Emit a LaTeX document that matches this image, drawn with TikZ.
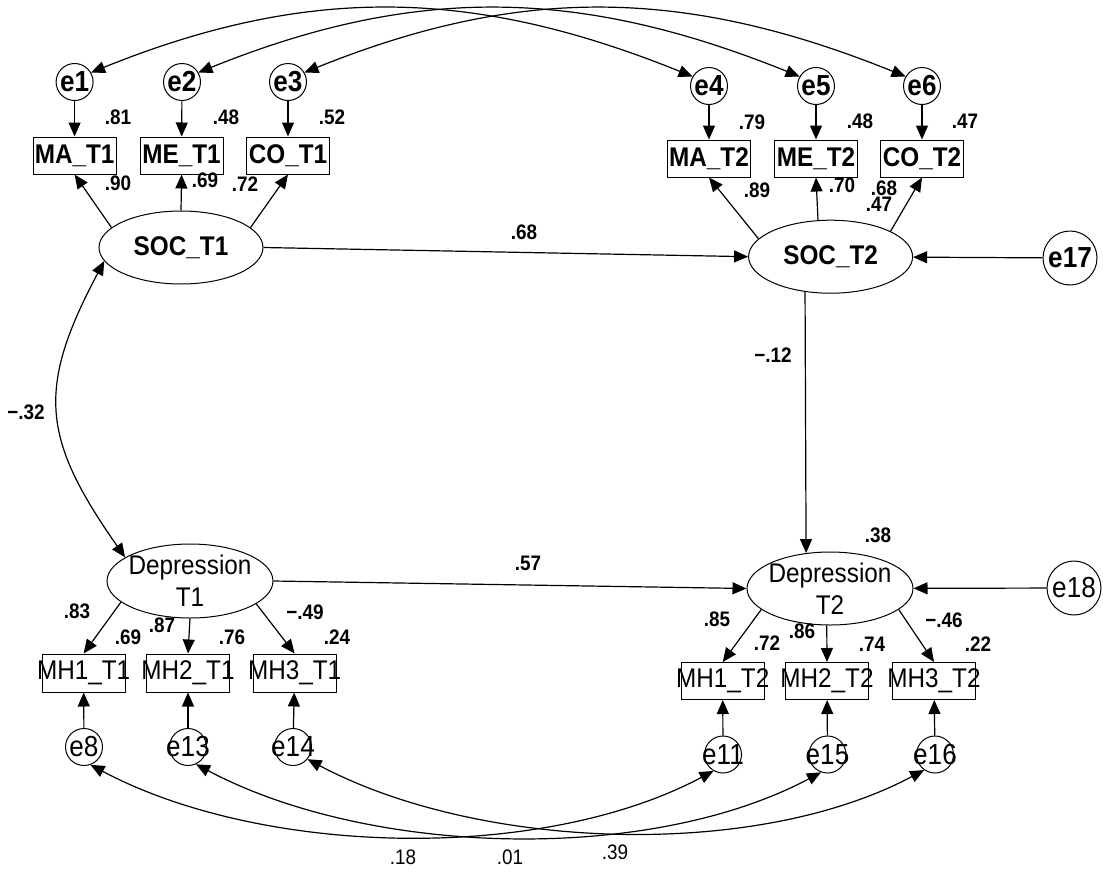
\documentclass[tikz,border=0pt]{standalone}
\usepackage{fontspec}
\newfontfamily\dfont[FakeStretch=0.9]{Liberation Sans}
\usetikzlibrary{arrows.meta,shapes.geometric}
\begin{document}
\begin{tikzpicture}[x=1pt,y=1pt]
\tikzset{
 ln/.style={line width=1.2pt},
 arr/.style={ln,-{Triangle[length=14pt,width=12pt]}},
 darr/.style={ln,{Triangle[length=14pt,width=12pt]}-{Triangle[length=14pt,width=12pt]}},
 err/.style={draw,line width=1pt,circle,minimum size=37pt,inner sep=0pt},
 errbig/.style={err,minimum size=54pt},
 obs/.style={draw,line width=1pt,rectangle,minimum width=83pt,minimum height=37pt,inner sep=0pt},
 lat/.style={draw,line width=1pt,ellipse,minimum width=164pt,minimum height=73pt,inner sep=0pt},
 bt/.style={font=\dfont\bfseries\fontsize{27}{32}\selectfont,inner sep=0pt},
 et/.style={font=\dfont\bfseries\fontsize{29}{32}\selectfont,inner sep=0pt},
 rt/.style={font=\dfont\fontsize{27}{32}\selectfont,inner sep=0pt,align=center},
 ert/.style={font=\dfont\fontsize{29}{32}\selectfont,inner sep=0pt},
 nb/.style={font=\dfont\bfseries\fontsize{21}{24}\selectfont,inner sep=0pt},
 nr/.style={font=\dfont\fontsize{21}{24}\selectfont,inner sep=0pt},
}
\fill[white] (0,0) rectangle (1103,-873);
\useasboundingbox (0,0) rectangle (1103,-873);

% ---- T1 SOC block
\node[err,label={[et]center:e1}] (e1) at (74.6,-82) {};
\node[err,label={[et]center:e2}] (e2) at (182,-82) {};
\node[err,label={[et]center:e3}] (e3) at (288,-82) {};
\node[obs,label={[bt]center:MA\_T1}] (ma1) at (74.6,-155.5) {};
\node[obs,label={[bt]center:ME\_T1}] (me1) at (181.6,-155.5) {};
\node[obs,label={[bt]center:CO\_T1}] (co1) at (288,-155.5) {};
\node[lat,label={[bt]center:SOC\_T1}] (soc1) at (181,-247.5) {};

% ---- T2 SOC block
\node[err,label={[et]center:e4}] (e4) at (709,-86) {};
\node[err,label={[et]center:e5}] (e5) at (816,-86) {};
\node[err,label={[et]center:e6}] (e6) at (922,-86) {};
\node[obs,label={[bt]center:MA\_T2}] (ma2) at (709,-158.5) {};
\node[obs,label={[bt]center:ME\_T2}] (me2) at (816,-158.5) {};
\node[obs,label={[bt]center:CO\_T2}] (co2) at (922,-158.5) {};
\node[lat,label={[bt]center:SOC\_T2}] (soc2) at (830.6,-256.7) {};
\node[errbig,label={[et]center:e17}] (e17) at (1070,-258) {};

% ---- Depression T1
\node[lat,minimum width=166pt,minimum height=74pt,label={[rt]center:{Depression\\T1}}] (dep1) at (190,-581) {};
\node[obs,minimum height=38pt,label={[rt]center:MH1\_T1}] (mh1a) at (83.6,-673) {};
\node[obs,minimum height=38pt,label={[rt]center:MH2\_T1}] (mh2a) at (188,-673) {};
\node[obs,minimum height=38pt,label={[rt]center:MH3\_T1}] (mh3a) at (294.6,-673) {};
\node[err,label={[ert]center:e8}] (e8) at (84,-747) {};
\node[err,label={[ert]center:e13}] (e13) at (188,-747) {};
\node[err,label={[ert]center:e14}] (e14) at (293,-747) {};

% ---- Depression T2
\node[lat,minimum width=166pt,label={[rt]center:{Depression\\T2}}] (dep2) at (830,-588.5) {};
\node[errbig,label={[ert]center:e18}] (e18) at (1074,-588) {};
\node[obs,label={[rt]center:MH1\_T2}] (mh1b) at (722.7,-681) {};
\node[obs,label={[rt]center:MH2\_T2}] (mh2b) at (827,-681) {};
\node[obs,label={[rt]center:MH3\_T2}] (mh3b) at (934,-681) {};
\node[err,label={[ert]center:e11}] (e11) at (723,-754.5) {};
\node[err,label={[ert]center:e15}] (e15) at (827.5,-754.5) {};
\node[err,label={[ert]center:e16}] (e16) at (935,-754.5) {};

% ---- single-headed arrows
\draw[arr] (e1) -- (ma1);
\draw[arr] (e2) -- (me1);
\draw[arr] (e3) -- (co1);
\draw[arr] (e4) -- (ma2);
\draw[arr] (e5) -- (me2);
\draw[arr] (e6) -- (co2);
\draw[arr] (soc1.164) -- (ma1.south);
\draw[arr] (soc1.north) -- (me1.south);
\draw[arr] (soc1.16) -- (co1.south);
\draw[arr] (soc2.166) -- (ma2.south);
\draw[arr] (soc2.109) -- (me2.south);
\draw[arr] (soc2.23) -- (co2.south);
\draw[arr] (soc1.east) -- (soc2.west);
\draw[arr] (e17) -- (soc2);
\draw[arr] (soc2.234.7) -- (dep2.124.5);
\draw[arr] (dep1.east) -- (dep2.west);
\draw[arr] (e18) -- (dep2);
\draw[arr] (dep1.197) -- (mh1a.north);
\draw[arr] (dep1.south) -- (mh2a.north);
\draw[arr] (dep1.341) -- (mh3a.north);
\draw[arr] (dep2.197) -- (mh1b.north);
\draw[arr] (dep2.265) -- (mh2b.north);
\draw[arr] (dep2.343) -- (mh3b.north);
\draw[arr] (e8) -- (mh1a);
\draw[arr] (e13) -- (mh2a);
\draw[arr] (e14) -- (mh3a);
\draw[arr] (e11) -- (mh1b);
\draw[arr] (e15) -- (mh2b);
\draw[arr] (e16) -- (mh3b);

% ---- double-headed curves
\draw[darr] (e1.30) to[out=22,in=158] (e4.150);
\draw[darr] (e2.30) to[out=22,in=158] (e5.150);
\draw[darr] (e3.30) to[out=22,in=158] (e6.150);
\draw[darr] (soc1.190) to[out=-118,in=125,looseness=1.25] (dep1.160);
\draw[darr] (e8.-70) to[out=-28,in=208,looseness=0.8] (e11.-120);
\draw[darr] (e13.-65) to[out=-28,in=208,looseness=0.8] (e15.-110);
\draw[darr] (e14.-40) to[out=-28,in=208,looseness=0.8] (e16.-125);

% ---- coefficient labels
\node[nb] (n1) at (118,-117) {.81};
\node[nb] (n2) at (226,-117) {.48};
\node[nb] (n3) at (332,-117) {.52};
\node[nb] (n4) at (118,-183) {.90};
\node[nb] (n5) at (205,-180) {.69};
\node[nb] (n6) at (245,-184) {.72};
\node[nb] (n7) at (524,-232) {.68};
\node[nb] (n8) at (752,-122) {.79};
\node[nb] (n9) at (860,-121) {.48};
\node[nb] (n10) at (965,-121) {.47};
\node[nb] (n11) at (757,-190) {.89};
\node[nb] (n12) at (842,-185) {.70};
\node[nb] (n13) at (884,-188) {.68};
\node[nb] (n14) at (879,-204) {.47};
\node[nb] (n15) at (773,-355) {−.12};
\node[nb] (n16) at (26,-412) {−.32};
\node[nb] (n17) at (878,-535) {.38};
\node[nb] (n18) at (528,-563) {.57};
\node[nb] (n19) at (77,-611) {.83};
\node[nb] (n20) at (128,-637) {.69};
\node[nb] (n21) at (162,-625) {.87};
\node[nb] (n22) at (232,-637) {.76};
\node[nb] (n23) at (305,-612) {−.49};
\node[nb] (n24) at (337,-637) {.24};
\node[nb] (n25) at (717,-619) {.85};
\node[nb] (n26) at (767,-643) {.72};
\node[nb] (n27) at (802,-631) {.86};
\node[nb] (n28) at (872,-644) {.74};
\node[nb] (n29) at (944,-620) {−.46};
\node[nb] (n30) at (978,-644) {.22};
\node[nr] (n31) at (403,-857) {.18};
\node[nr] (n32) at (510,-857) {.01};
\node[nr] (n33) at (615,-852) {.39};
\end{tikzpicture}
\end{document}
